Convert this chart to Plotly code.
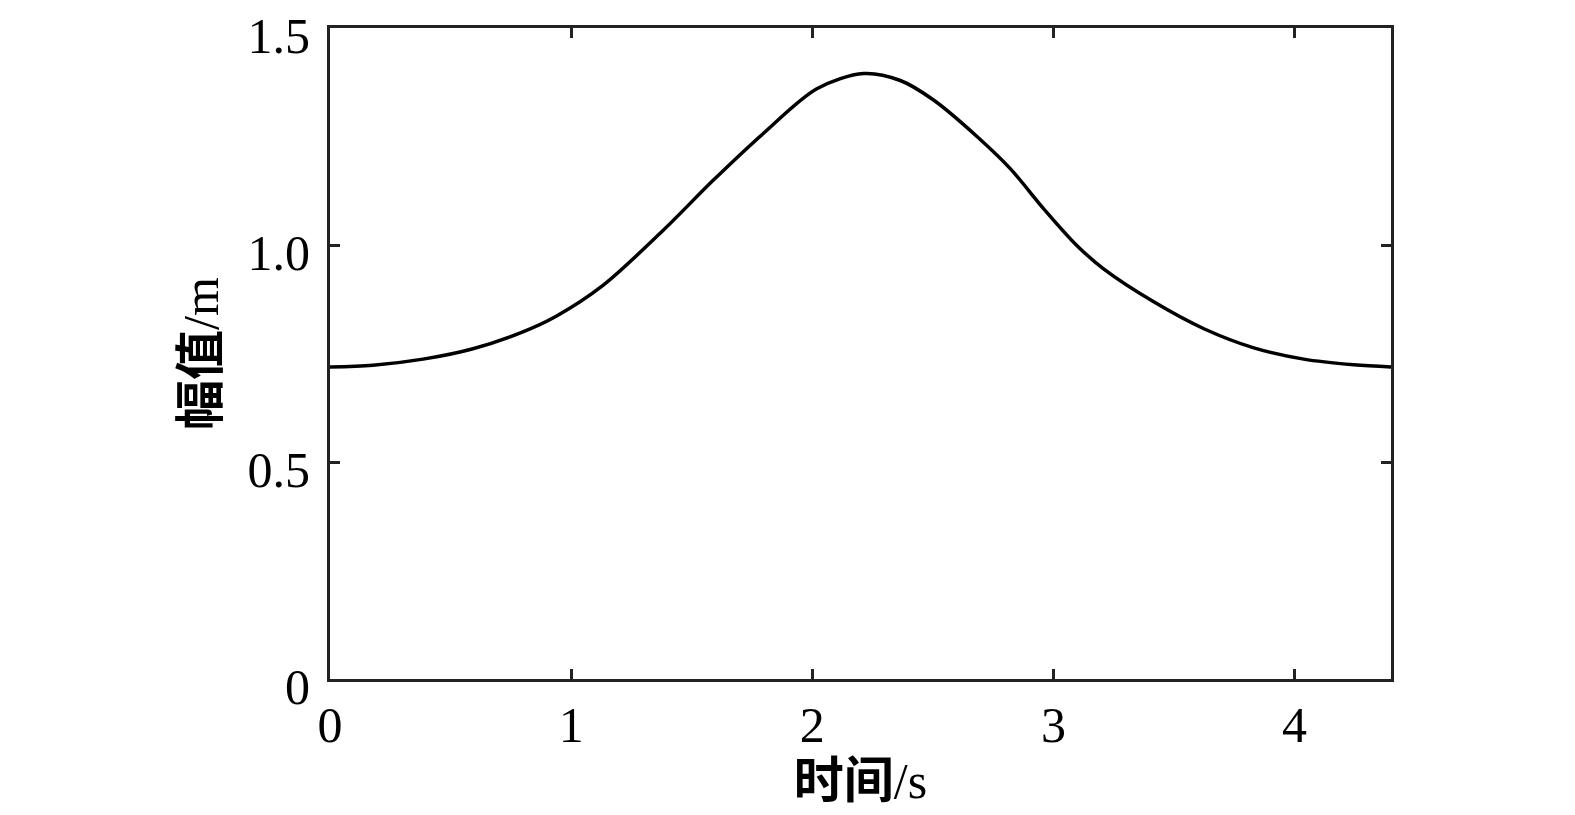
import plotly.graph_objects as go

time_s = [0.0, 0.178, 0.386, 0.593, 0.80, 0.938, 1.132, 1.382, 1.589, 1.797, 2.019, 2.213,
          2.365, 2.503, 2.683, 2.821, 2.959, 3.097, 3.208, 3.416, 3.624, 3.831, 4.038, 4.246, 4.4]
amplitude_m = [0.719, 0.723, 0.737, 0.761, 0.800, 0.836, 0.907, 1.034, 1.149, 1.257, 1.360, 1.395,
               1.379, 1.334, 1.250, 1.176, 1.084, 0.999, 0.945, 0.869, 0.807, 0.763, 0.737, 0.724, 0.719]

x_ticks = [0, 1, 2, 3, 4]
y_ticks = [0, 0.5, 1.0, 1.5]
y_tick_labels = ["0", "0.5", "1.0", "1.5"]

font_family = "Liberation Serif, Noto Sans CJK SC, serif"

fig = go.Figure()
fig.add_trace(go.Scatter(x=time_s, y=amplitude_m, mode="lines",
                         line=dict(color="black", width=3.5, shape="spline", smoothing=0.9),
                         showlegend=False))

axis_common = dict(showline=True, linecolor="#222", linewidth=3, mirror="ticks",
                   ticks="inside", ticklen=10, tickwidth=2.5, tickcolor="#222",
                   showgrid=False, zeroline=False, automargin=False,
                   ticklabeloverflow="allow",
                   tickfont=dict(family=font_family, size=50, color="black"))

fig.update_xaxes(range=[0, 4.4], tickvals=x_ticks, ticktext=[str(v) for v in x_ticks],
                 ticklabelstandoff=0,
                 title=dict(text="<b>时间</b>/s", font=dict(family=font_family, size=50, color="black"), standoff=0),
                 **axis_common)
fig.update_yaxes(range=[0, 1.5], tickvals=y_ticks, ticktext=y_tick_labels,
                 ticklabelstandoff=7, ticklabelshift=7,
                 title=dict(text="<b>幅值</b>/m", font=dict(family=font_family, size=50, color="black"), standoff=14),
                 **axis_common)

fig.update_layout(width=1567, height=807,
                  margin=dict(l=322, r=184, t=20, b=136),
                  paper_bgcolor="white", plot_bgcolor="white")

fig.write_html("out.html")
